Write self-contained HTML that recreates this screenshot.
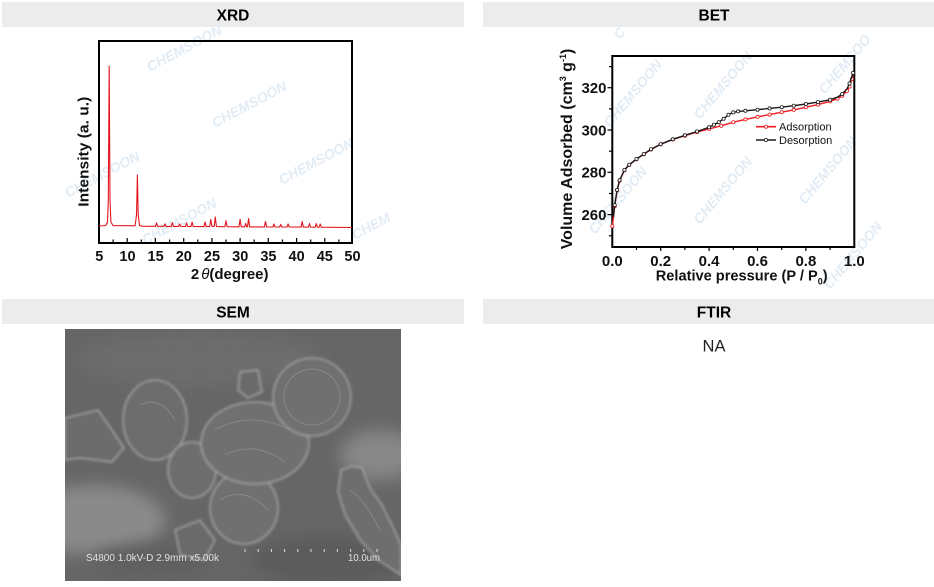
<!DOCTYPE html>
<html>
<head>
<meta charset="utf-8">
<style>
  html,body{margin:0;padding:0;background:#fff;}
  body{width:934px;height:587px;overflow:hidden;}
  svg{display:block;font-family:"Liberation Sans",Arial,sans-serif;}
</style>
</head>
<body>
<svg width="934" height="587" viewBox="0 0 934 587" xmlns="http://www.w3.org/2000/svg">
  <defs>
    <filter id="blur6" x="-50%" y="-50%" width="200%" height="200%"><feGaussianBlur stdDeviation="8"/></filter>
    <filter id="blur2" x="-20%" y="-20%" width="140%" height="140%"><feGaussianBlur stdDeviation="1.2"/></filter>
    <clipPath id="semclip"><rect x="65" y="329" width="336" height="252"/></clipPath>
    <clipPath id="xrdclip"><rect x="99" y="41" width="253" height="202"/></clipPath>
  </defs>

  <!-- Header bars -->
  <rect x="2" y="2" width="462" height="25" fill="#ececec"/>
  <rect x="483" y="2" width="462" height="25" fill="#ececec"/>
  <rect x="2" y="299" width="462" height="25" fill="#ececec"/>
  <rect x="483" y="299" width="462" height="25" fill="#ececec"/>
  <text x="233" y="20.5" font-size="15.5" font-weight="bold" text-anchor="middle" fill="#000">XRD</text>
  <text x="714" y="20.5" font-size="15.5" font-weight="bold" text-anchor="middle" fill="#000">BET</text>
  <text x="233" y="317.5" font-size="15.5" font-weight="bold" text-anchor="middle" fill="#000">SEM</text>
  <text x="714" y="317.5" font-size="15.5" font-weight="bold" text-anchor="middle" fill="#000">FTIR</text>
  <text x="714" y="351.5" font-size="16.5" text-anchor="middle" fill="#222">NA</text>

  <!-- ================= XRD ================= -->
  <g font-weight="bold" fill="#dfeaf5" font-style="italic" font-size="14" opacity="0.9">
    <text transform="translate(150,72) rotate(-28)">CHEMSOON</text>
    <text transform="translate(215,128) rotate(-28)">CHEMSOON</text>
    <text transform="translate(68,198) rotate(-28)">CHEMSOON</text>
    <text transform="translate(282,185) rotate(-28)">CHEMSOON</text>
    <text transform="translate(145,245) rotate(-28)">CHEMSOON</text>
    <text transform="translate(355,240) rotate(-28)">CHEM</text>
  </g>
  <rect x="99" y="41" width="253" height="202" fill="none" stroke="#000" stroke-width="2"/>
  <!-- xrd ticks -->
  <g stroke="#000" stroke-width="1.2">
    <line x1="127.2" y1="242" x2="127.2" y2="238"/>
    <line x1="155.4" y1="242" x2="155.4" y2="238"/>
    <line x1="183.7" y1="242" x2="183.7" y2="238"/>
    <line x1="211.9" y1="242" x2="211.9" y2="238"/>
    <line x1="240.1" y1="242" x2="240.1" y2="238"/>
    <line x1="268.3" y1="242" x2="268.3" y2="238"/>
    <line x1="296.6" y1="242" x2="296.6" y2="238"/>
    <line x1="324.8" y1="242" x2="324.8" y2="238"/>
    <line x1="113.1" y1="242" x2="113.1" y2="239.5"/>
    <line x1="141.3" y1="242" x2="141.3" y2="239.5"/>
    <line x1="169.6" y1="242" x2="169.6" y2="239.5"/>
    <line x1="197.8" y1="242" x2="197.8" y2="239.5"/>
    <line x1="226" y1="242" x2="226" y2="239.5"/>
    <line x1="254.2" y1="242" x2="254.2" y2="239.5"/>
    <line x1="282.5" y1="242" x2="282.5" y2="239.5"/>
    <line x1="310.7" y1="242" x2="310.7" y2="239.5"/>
    <line x1="338.9" y1="242" x2="338.9" y2="239.5"/>
  </g>
  <g clip-path="url(#xrdclip)">
    <path fill="none" stroke="#e3161e" stroke-width="1.1" stroke-linejoin="round"
      d="M99,226 L105.8,225.5 L107.5,222 L108.3,200 L109.2,66 L110,200 L110.9,222 L113.1,225.6 L135.1,225.8 L136.5,215 L137.4,175 L138.2,215 L139.6,225.5 L141.9,226.2 L155.5,226.3 L156.6,223 L157.7,226.3 L163.9,226.3 L165,224 L166.1,226.4 L171.3,226.4 L172.4,222.5 L173.5,226.4 L178.6,226.4 L179.7,224 L180.8,226.4 L185.4,226.5 L186.5,223 L187.6,226.5 L191,226.5 L192.1,222 L193.2,226.5 L204,226.6 L205.1,222 L206.2,226.6 L209.7,226.6 L210.8,219.5 L211.9,226.3 L214.2,226.3 L215.3,217 L216.4,226.6 L224.9,226.7 L226,220.7 L227.1,226.7 L239,226.8 L240.1,219.3 L241.2,226.8 L244.6,226.8 L245.7,223.5 L246.8,226.8 L247.5,226.8 L248.6,218.5 L249.7,226.9 L264.4,226.9 L265.5,221.5 L266.6,226.9 L272.9,227 L274,224 L275.1,227 L279.6,227 L280.7,224.5 L281.8,227 L287,227 L288.1,224 L289.2,227 L301.1,227.1 L302.2,221.5 L303.3,227.1 L308.4,227.1 L309.5,223.5 L310.6,227.1 L315.2,227.2 L316.3,223.5 L317.4,227.2 L319.1,227.2 L320.2,224 L321.3,227.2 L352,227.5"/>
  </g>
  <g font-size="14.5" font-weight="bold" text-anchor="middle" fill="#111">
    <text x="99.3" y="261">5</text>
    <text x="127.5" y="261">10</text>
    <text x="155.6" y="261">15</text>
    <text x="183.8" y="261">20</text>
    <text x="212" y="261">25</text>
    <text x="240.2" y="261">30</text>
    <text x="268.4" y="261">35</text>
    <text x="296.6" y="261">40</text>
    <text x="324.8" y="261">45</text>
    <text x="352.5" y="261">50</text>
  </g>
  <text x="229.7" y="279" font-size="15" font-weight="bold" text-anchor="middle" fill="#111">2<tspan font-style="italic" font-weight="normal" dx="2">θ</tspan>(degree)</text>
  <text transform="translate(88.5,151.7) rotate(-90)" font-size="15" font-weight="bold" text-anchor="middle" fill="#111" textLength="110" lengthAdjust="spacingAndGlyphs">Intensity (a. u.)</text>

  <!-- ================= BET ================= -->
  <g font-weight="bold" fill="#dfeaf5" font-style="italic" font-size="14" opacity="0.9">
    <text transform="translate(610,128) rotate(-50)">CHEMSOON</text>
    <text transform="translate(700,120) rotate(-50)">CHEMSOON</text>
    <text transform="translate(595,235) rotate(-50)">CHEMSOON</text>
    <text transform="translate(700,225) rotate(-50)">CHEMSOON</text>
    <text transform="translate(805,205) rotate(-50)">CHEMSOON</text>
    <text transform="translate(825,95) rotate(-50)">CHEMSOO</text>
    <text transform="translate(830,290) rotate(-50)">CHEMSOON</text>
    <text transform="translate(620,40) rotate(-50)">C</text>
  </g>
  <rect x="612.3" y="56" width="242" height="191" fill="none" stroke="#000" stroke-width="2"/>
  <g stroke="#000" stroke-width="1.2">
    <!-- y ticks -->
    <line x1="612" y1="214.6" x2="607.5" y2="214.6"/>
    <line x1="612" y1="172.3" x2="607.5" y2="172.3"/>
    <line x1="612" y1="130" x2="607.5" y2="130"/>
    <line x1="612" y1="87.7" x2="607.5" y2="87.7"/>
    <line x1="612" y1="235.8" x2="609" y2="235.8"/>
    <line x1="612" y1="193.5" x2="609" y2="193.5"/>
    <line x1="612" y1="151.2" x2="609" y2="151.2"/>
    <line x1="612" y1="108.9" x2="609" y2="108.9"/>
    <line x1="612" y1="66.6" x2="609" y2="66.6"/>
    <!-- x ticks -->
    <line x1="660.7" y1="247" x2="660.7" y2="251"/>
    <line x1="709.1" y1="247" x2="709.1" y2="251"/>
    <line x1="757.5" y1="247" x2="757.5" y2="251"/>
    <line x1="805.9" y1="247" x2="805.9" y2="251"/>
    <line x1="636.5" y1="247" x2="636.5" y2="250"/>
    <line x1="684.9" y1="247" x2="684.9" y2="250"/>
    <line x1="733.3" y1="247" x2="733.3" y2="250"/>
    <line x1="781.7" y1="247" x2="781.7" y2="250"/>
    <line x1="830.1" y1="247" x2="830.1" y2="250"/>
  </g>
  <!-- adsorption -->
  <polyline fill="none" stroke="#ee1c24" stroke-width="1.4" stroke-linejoin="round"
    points="612.3,226.2 613.5,216.7 614.7,206.1 617.1,190.3 619.6,180.8 624.4,170.2 629.2,164.9 636.5,159.2 643.8,154.3 651,149.5 660.7,144.2 672.8,139.5 684.9,135.7 697,132.1 709.1,128.9 721.2,125.8 733.3,122.2 745.4,119.4 757.5,116.9 769.6,114.6 781.7,112.2 793.8,109.9 805.9,107.2 818,104.6 830.1,101.4 837.4,98.7 842.2,95.7 847,90.9 849.5,86.6 851.9,79.2 853.1,75"/>
  <g fill="#fff" stroke="#ee1c24" stroke-width="0.8">
    <circle cx="612.3" cy="226.2" r="1.6"/><circle cx="614.7" cy="206.1" r="1.6"/><circle cx="617.1" cy="190.3" r="1.6"/><circle cx="619.6" cy="180.8" r="1.6"/><circle cx="624.4" cy="170.2" r="1.6"/><circle cx="629.2" cy="164.9" r="1.6"/><circle cx="636.5" cy="159.2" r="1.6"/><circle cx="643.8" cy="154.3" r="1.6"/><circle cx="651" cy="149.5" r="1.6"/><circle cx="660.7" cy="144.2" r="1.6"/><circle cx="672.8" cy="139.5" r="1.6"/><circle cx="684.9" cy="135.7" r="1.6"/><circle cx="697" cy="132.1" r="1.6"/><circle cx="709.1" cy="128.9" r="1.6"/><circle cx="721.2" cy="125.8" r="1.6"/><circle cx="733.3" cy="122.2" r="1.6"/><circle cx="745.4" cy="119.4" r="1.6"/><circle cx="757.5" cy="116.9" r="1.6"/><circle cx="769.6" cy="114.6" r="1.6"/><circle cx="781.7" cy="112.2" r="1.6"/><circle cx="793.8" cy="109.9" r="1.6"/><circle cx="805.9" cy="107.2" r="1.6"/><circle cx="818" cy="104.6" r="1.6"/><circle cx="830.1" cy="101.4" r="1.6"/><circle cx="837.4" cy="98.7" r="1.6"/><circle cx="842.2" cy="95.7" r="1.6"/><circle cx="847" cy="90.9" r="1.6"/><circle cx="849.5" cy="86.6" r="1.6"/><circle cx="851.9" cy="79.2" r="1.6"/>
  </g>
  <!-- desorption -->
  <polyline fill="none" stroke="#1a1a1a" stroke-width="1.4" stroke-linejoin="round"
    points="853.1,72.9 851.9,76.1 849.5,83.5 847,88.8 842.2,94 837.4,97.2 830.1,99.8 818,102.1 805.9,104 793.8,105.7 781.7,107.2 769.6,108.4 757.5,109.7 745.4,110.8 738.1,111.4 733.3,112.4 728.5,114.8 723.6,118.8 718.8,122.2 713.9,124.7 709.1,127.3 697,131.5 684.9,135.3 672.8,139.3 660.7,144.2 651,149.2 643.8,154.1 636.5,159 629.2,164.7 624.4,170 619.6,180.3 617.1,189.9 614.7,205.1 613.5,216.7"/>
  <g fill="#fff" stroke="#1a1a1a" stroke-width="0.8">
    <circle cx="853.1" cy="72.9" r="1.6"/><circle cx="849.5" cy="83.5" r="1.6"/><circle cx="842.2" cy="94" r="1.6"/><circle cx="830.1" cy="99.8" r="1.6"/><circle cx="818" cy="102.1" r="1.6"/><circle cx="805.9" cy="104" r="1.6"/><circle cx="793.8" cy="105.7" r="1.6"/><circle cx="781.7" cy="107.2" r="1.6"/><circle cx="769.6" cy="108.4" r="1.6"/><circle cx="757.5" cy="109.7" r="1.6"/><circle cx="745.4" cy="110.8" r="1.6"/><circle cx="738.1" cy="111.4" r="1.6"/><circle cx="733.3" cy="112.4" r="1.6"/><circle cx="728.5" cy="114.8" r="1.6"/><circle cx="723.6" cy="118.8" r="1.6"/><circle cx="718.8" cy="122.2" r="1.6"/><circle cx="713.9" cy="124.7" r="1.6"/><circle cx="709.1" cy="127.3" r="1.6"/><circle cx="697" cy="131.5" r="1.6"/><circle cx="684.9" cy="135.3" r="1.6"/><circle cx="672.8" cy="139.3" r="1.6"/><circle cx="660.7" cy="144.2" r="1.6"/><circle cx="651" cy="149.2" r="1.6"/><circle cx="643.8" cy="154.1" r="1.6"/><circle cx="636.5" cy="159" r="1.6"/><circle cx="629.2" cy="164.7" r="1.6"/><circle cx="624.4" cy="170" r="1.6"/><circle cx="619.6" cy="180.3" r="1.6"/><circle cx="617.1" cy="189.9" r="1.6"/><circle cx="614.7" cy="205.1" r="1.6"/>
  </g>
  <!-- legend -->
  <line x1="756" y1="126.7" x2="776" y2="126.7" stroke="#ee1c24" stroke-width="1.6"/>
  <circle cx="766" cy="126.7" r="1.6" fill="#fff" stroke="#ee1c24" stroke-width="0.8"/>
  <line x1="756" y1="140" x2="776" y2="140" stroke="#1a1a1a" stroke-width="1.6"/>
  <circle cx="766" cy="140" r="1.6" fill="#fff" stroke="#1a1a1a" stroke-width="0.8"/>
  <text x="779" y="130.6" font-size="11" fill="#111">Adsorption</text>
  <text x="779" y="144" font-size="11" fill="#111">Desorption</text>
  <!-- BET axis labels -->
  <g font-size="15" font-weight="bold" fill="#111">
    <g text-anchor="end">
      <text x="606.5" y="219.9">260</text>
      <text x="606.5" y="177.6">280</text>
      <text x="606.5" y="135.3">300</text>
      <text x="606.5" y="93">320</text>
    </g>
    <g text-anchor="middle">
      <text x="612.3" y="266">0.0</text>
      <text x="660.7" y="266">0.2</text>
      <text x="709.1" y="266">0.4</text>
      <text x="757.5" y="266">0.6</text>
      <text x="805.9" y="266">0.8</text>
      <text x="854.3" y="266">1.0</text>
    </g>
  </g>
  <text x="741.7" y="280.7" font-size="14.6" font-weight="bold" text-anchor="middle" fill="#111">Relative pressure (P / P<tspan font-size="9" dy="4">0</tspan><tspan dy="-4">)</tspan></text>
  <text transform="translate(572,149) rotate(-90)" font-size="16" font-weight="bold" text-anchor="middle" fill="#111">Volume Adsorbed (cm<tspan font-size="9" dy="-6">3</tspan><tspan dy="6"> g</tspan><tspan font-size="9" dy="-6">-1</tspan><tspan dy="6">)</tspan></text>

  <!-- ================= SEM ================= -->
  <g clip-path="url(#semclip)">
    <rect x="65" y="329" width="336" height="252" fill="#666"/>
    <ellipse cx="95" cy="520" rx="70" ry="35" fill="#8a8a8a" filter="url(#blur6)"/>
    <ellipse cx="380" cy="455" rx="40" ry="25" fill="#878787" filter="url(#blur6)"/>
    <ellipse cx="200" cy="360" rx="120" ry="25" fill="#6d6d6d" filter="url(#blur6)"/>
    <ellipse cx="330" cy="560" rx="80" ry="25" fill="#5c5c5c" filter="url(#blur6)"/>
    <ellipse cx="150" cy="560" rx="60" ry="15" fill="#5f5f5f" filter="url(#blur6)"/>
    <g filter="url(#blur2)" stroke="#a9a9a9" stroke-width="1.3">
      <!-- left plate -->
      <polygon points="65,418 98,410 112,430 124,448 112,462 80,458 65,460" fill="#6c6c6c"/>
      <!-- right plate -->
      <polygon points="341,470 352,466 362,468 370,488 382,505 392,525 401,545 401,575 378,560 360,540 345,515 338,492" fill="#6e6e6e"/>
      <!-- top small -->
      <polygon points="240,372 258,370 262,392 248,398 238,390" fill="#6a6a6a"/>
      <!-- left-mid particle -->
      <ellipse cx="155" cy="420" rx="32" ry="40" fill="#6d6d6d"/>
      <!-- lower particle -->
      <ellipse cx="244" cy="508" rx="34" ry="36" fill="#6f6f6f"/>
      <polygon points="175,530 200,520 215,540 205,560 180,555" fill="#6a6a6a"/>
      <!-- small mid -->
      <ellipse cx="192" cy="470" rx="24" ry="28" fill="#6e6e6e"/>
      <!-- big cluster -->
      <ellipse cx="255" cy="443" rx="54" ry="41" fill="#707070"/>
      <!-- sphere -->
      <circle cx="312" cy="397" r="39" fill="#6f6f6f"/>
    </g>
    <g fill="none" stroke="#8e8e8e" stroke-width="1" opacity="0.8">
      <circle cx="312" cy="397" r="28"/>
      <path d="M215,430 Q250,410 290,430"/>
      <path d="M225,455 Q255,440 285,462"/>
      <path d="M140,405 Q160,395 175,420"/>
      <path d="M220,500 Q245,485 268,510"/>
      <path d="M350,490 Q365,500 380,530"/>
    </g>
    <g stroke="#dcdcdc" stroke-width="1">
      <line x1="245" y1="549" x2="245" y2="552"/>
      <line x1="258.2" y1="549" x2="258.2" y2="552"/>
      <line x1="271.4" y1="549" x2="271.4" y2="552"/>
      <line x1="284.6" y1="549" x2="284.6" y2="552"/>
      <line x1="297.8" y1="549" x2="297.8" y2="552"/>
      <line x1="311" y1="549" x2="311" y2="552"/>
      <line x1="324.2" y1="549" x2="324.2" y2="552"/>
      <line x1="337.4" y1="549" x2="337.4" y2="552"/>
      <line x1="350.6" y1="549" x2="350.6" y2="552"/>
      <line x1="363.8" y1="549" x2="363.8" y2="552"/>
      <line x1="377" y1="549" x2="377" y2="552"/>
    </g>
    <text x="86" y="561" font-size="10" fill="#e2e2e2" textLength="133" lengthAdjust="spacingAndGlyphs">S4800 1.0kV-D 2.9mm x5.00k</text>
    <text x="348" y="561" font-size="10" fill="#e2e2e2" textLength="32" lengthAdjust="spacingAndGlyphs">10.0um</text>
  </g>
</svg>
</body>
</html>
